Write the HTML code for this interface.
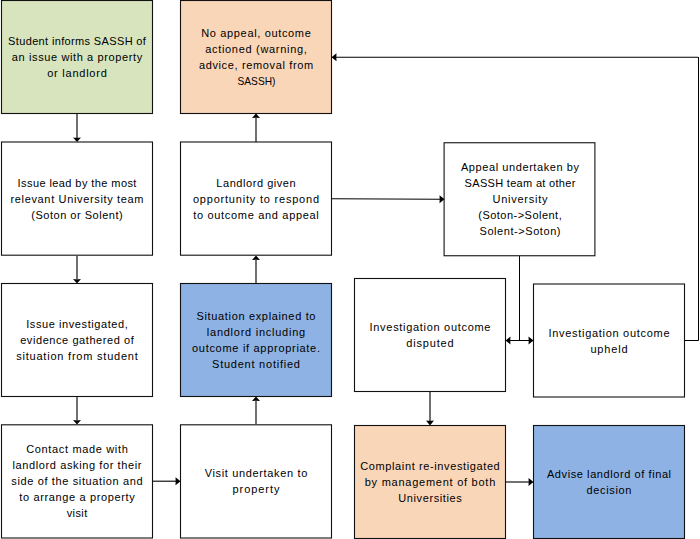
<!DOCTYPE html>
<html><head><meta charset="utf-8">
<style>
html,body{margin:0;padding:0;background:#fff;}
body{width:700px;height:539px;position:relative;overflow:hidden;font-family:"Liberation Sans",sans-serif;}
.b{position:absolute;box-sizing:border-box;border:1px solid transparent;width:152px;height:114px;display:flex;align-items:center;justify-content:center;text-align:center;font-size:11px;line-height:16px;color:#000;}
.b div{white-space:nowrap;width:100%;}
.b span{display:block;}
svg{position:absolute;left:0;top:0;}
</style></head><body>
<svg width="700" height="539" viewBox="0 0 700 539"><g stroke="#111" stroke-width="1.1"><rect x="1.5" y="0.5" width="151.00" height="113.00" fill="#D7E4BD"/><rect x="180.5" y="0.5" width="151.00" height="113.00" fill="#FAD6B8"/><rect x="1.5" y="142.0" width="151.00" height="113.20" fill="#fff"/><rect x="180.5" y="142.0" width="151.00" height="113.20" fill="#fff"/><rect x="444.1" y="142.75" width="150.80" height="113.00" fill="#fff"/><rect x="1.5" y="283.5" width="151.00" height="113.00" fill="#fff"/><rect x="180.5" y="283.5" width="151.00" height="113.00" fill="#8EB2E3"/><rect x="354.5" y="278.5" width="151.00" height="113.00" fill="#fff"/><rect x="533.5" y="284.0" width="151.00" height="113.00" fill="#fff"/><rect x="1.5" y="424.8" width="151.00" height="113.20" fill="#fff"/><rect x="180.5" y="424.8" width="151.00" height="113.20" fill="#fff"/><rect x="354.5" y="425.5" width="151.00" height="113.00" fill="#FAD6B8"/><rect x="533.5" y="425.5" width="151.00" height="113.00" fill="#8EB2E3"/></g></svg>
<div class="b g" style="left:1px;top:0px"><div><span style="letter-spacing:0.356px;margin-right:-0.356px">Student informs SASSH of</span><span style="letter-spacing:0.614px;margin-right:-0.614px">an issue with a property</span><span style="letter-spacing:0.756px;margin-right:-0.756px">or landlord</span></div></div>
<div class="b o" style="left:180px;top:0px"><div><span style="letter-spacing:0.651px;margin-right:-0.651px">No appeal, outcome</span><span style="letter-spacing:0.694px;margin-right:-0.694px">actioned (warning,</span><span style="letter-spacing:0.639px;margin-right:-0.639px">advice, removal from</span><span><i style="display:inline-block;font-style:normal;transform:scaleX(0.925)">SASSH)</i></span></div></div>
<div class="b " style="left:1px;top:142px"><div><span style="letter-spacing:0.416px;margin-right:-0.416px">Issue lead by the most</span><span style="letter-spacing:0.653px;margin-right:-0.653px">relevant University team</span><span style="letter-spacing:0.518px;margin-right:-0.518px">(Soton or Solent)</span></div></div>
<div class="b " style="left:180px;top:142px"><div><span style="letter-spacing:0.547px;margin-right:-0.547px">Landlord given</span><span style="letter-spacing:0.793px;margin-right:-0.793px">opportunity to respond</span><span style="letter-spacing:0.684px;margin-right:-0.684px">to outcome and appeal</span></div></div>
<div class="b " style="left:444px;top:142px"><div><span style="letter-spacing:0.583px;margin-right:-0.583px">Appeal undertaken by</span><span style="letter-spacing:0.310px;margin-right:-0.310px">SASSH team at other</span><span style="letter-spacing:0.750px;margin-right:-0.750px">University</span><span style="letter-spacing:0.476px;margin-right:-0.476px">(Soton-&gt;Solent,</span><span style="letter-spacing:0.561px;margin-right:-0.561px">Solent-&gt;Soton)</span></div></div>
<div class="b " style="left:1px;top:283px"><div><span style="letter-spacing:0.580px;margin-right:-0.580px">Issue investigated,</span><span style="letter-spacing:0.573px;margin-right:-0.573px">evidence gathered of</span><span style="letter-spacing:0.784px;margin-right:-0.784px">situation from student</span></div></div>
<div class="b u" style="left:180px;top:283px"><div><span style="letter-spacing:0.656px;margin-right:-0.656px">Situation explained to</span><span style="letter-spacing:0.746px;margin-right:-0.746px">landlord including</span><span style="letter-spacing:0.704px;margin-right:-0.704px">outcome if appropriate.</span><span style="letter-spacing:0.762px;margin-right:-0.762px">Student notified</span></div></div>
<div class="b " style="left:354px;top:278px"><div><span style="letter-spacing:0.693px;margin-right:-0.693px">Investigation outcome</span><span style="letter-spacing:0.810px;margin-right:-0.810px">disputed</span></div></div>
<div class="b " style="left:533px;top:284px"><div><span style="letter-spacing:0.702px;margin-right:-0.702px">Investigation outcome</span><span style="letter-spacing:0.810px;margin-right:-0.810px">upheld</span></div></div>
<div class="b " style="left:1px;top:424px"><div><span style="letter-spacing:0.653px;margin-right:-0.653px">Contact made with</span><span style="letter-spacing:0.607px;margin-right:-0.607px">landlord asking for their</span><span style="letter-spacing:0.630px;margin-right:-0.630px">side of the situation and</span><span style="letter-spacing:0.630px;margin-right:-0.630px">to arrange a property</span><span style="letter-spacing:0.405px;margin-right:-0.405px">visit</span></div></div>
<div class="b " style="left:180px;top:424px"><div><span style="letter-spacing:0.650px;margin-right:-0.650px">Visit undertaken to</span><span style="letter-spacing:0.939px;margin-right:-0.939px">property</span></div></div>
<div class="b o" style="left:354px;top:425px"><div><span style="letter-spacing:0.615px;margin-right:-0.615px">Complaint re-investigated</span><span style="letter-spacing:0.747px;margin-right:-0.747px">by management of both</span><span style="letter-spacing:0.614px;margin-right:-0.614px">Universities</span></div></div>
<div class="b u" style="left:533px;top:425px"><div><span style="letter-spacing:0.583px;margin-right:-0.583px">Advise landlord of final</span><span style="letter-spacing:0.656px;margin-right:-0.656px">decision</span></div></div>
<svg width="700" height="539" viewBox="0 0 700 539">
<g fill="none">
<path d="M77 114V138" stroke="#000" stroke-width="1.12"/>
<path d="M77 256V279" stroke="#000" stroke-width="1.12"/>
<path d="M77 397V420" stroke="#000" stroke-width="1.12"/>
<path d="M153 481.2H176" stroke="#000" stroke-width="1.12"/>
<path d="M256 424V401" stroke="#000" stroke-width="1.12"/>
<path d="M256 283V260" stroke="#000" stroke-width="1.12"/>
<path d="M256 142V118" stroke="#000" stroke-width="1.12"/>
<path d="M332 198.7L440 199.3" stroke="#000" stroke-width="1.12"/>
<path d="M519.5 256V340" stroke="#000" stroke-width="1"/>
<path d="M509 340.5H529" stroke="#000" stroke-width="1"/>
<path d="M685 340.5H698.5V57" stroke="#000" stroke-width="1"/>
<path d="M698 57.2H336" stroke="#000" stroke-width="1.12"/>
<path d="M430 392V421" stroke="#000" stroke-width="1.12"/>
<path d="M506 482H529" stroke="#000" stroke-width="1.12"/>
</g>
<g fill="#000">
<path d="M73 137.5Q77 137.9 81 137.5L77 142Z"/>
<path d="M73 279Q77 279.4 81 279L77 283.5Z"/>
<path d="M73 420Q77 420.4 81 420L77 424.5Z"/>
<path d="M175.5 477.2Q175.9 481.2 175.5 485.2L180.5 481.2Z"/>
<path d="M252 401Q256 400.6 260 401L256 396.5Z"/>
<path d="M252 260Q256 259.6 260 260L256 255.5Z"/>
<path d="M252 118Q256 117.6 260 118L256 113.5Z"/>
<path d="M439.5 195.3Q439.9 199.3 439.5 203.3L444.5 199.3Z"/>
<path d="M510.5 336.5Q510.1 340.5 510.5 344.5L505.5 340.5Z"/>
<path d="M528.5 336.5Q528.9 340.5 528.5 344.5L533.5 340.5Z"/>
<path d="M336.5 53.2Q336.1 57.2 336.5 61.2L331.5 57.2Z"/>
<path d="M426 420.5Q430 420.9 434 420.5L430 425.5Z"/>
<path d="M528.5 478Q528.9 482 528.5 486L533.5 482Z"/>
</g>
</svg>
</body></html>
